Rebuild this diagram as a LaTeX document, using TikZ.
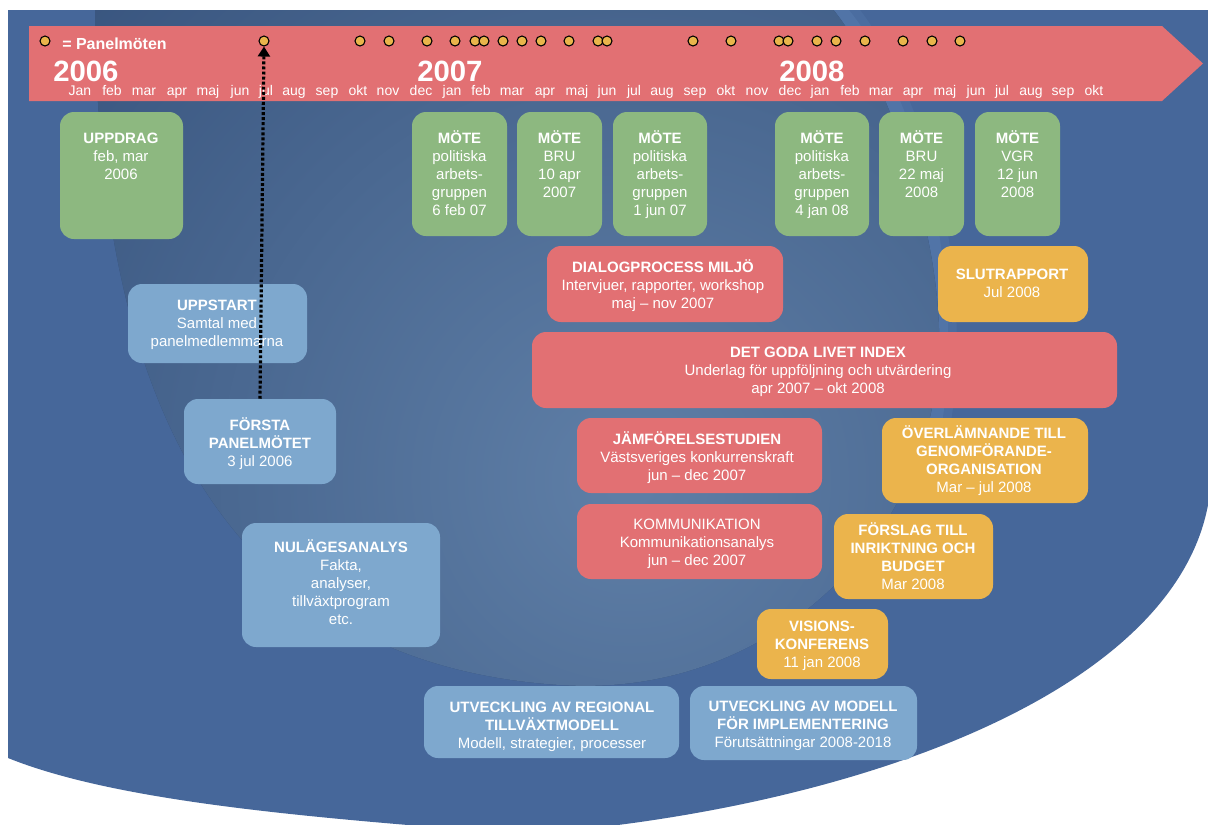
\documentclass[tikz,border=0pt]{standalone}
\usepackage{fontspec}
\setmainfont{Liberation Sans}
\usetikzlibrary{fit,arrows.meta}
\definecolor{bgBlue}{HTML}{46679A}
\definecolor{bgDark}{HTML}{34507A}
\definecolor{bgLight}{HTML}{5F7FA7}
\definecolor{bgStreak}{HTML}{5A80B3}
\definecolor{barRed}{HTML}{E27073}
\definecolor{boxGreen}{HTML}{8DB880}
\definecolor{boxBlue}{HTML}{7EA8CE}
\definecolor{boxOrange}{HTML}{EBB44C}
\definecolor{dotYellow}{HTML}{E9B54B}
\newcommand{\fs}{\rule{0pt}{11pt}}
\tikzset{
  box/.style={rounded corners=10.5pt, inner sep=0pt, draw=none},
  txt/.style={font=\fontsize{11.25pt}{13.5pt}\selectfont, text=white, align=center, inner sep=0pt, anchor=north, yshift=11pt},
  mon/.style={font=\fontsize{10.5pt}{12pt}\selectfont, text=white, anchor=base, inner sep=0pt},
  yr/.style={font=\fontsize{22pt}{26pt}\selectfont\bfseries, text=white, anchor=base west, inner sep=0pt},
  pdot/.style={circle, fill=dotYellow, draw=black, line width=0.8pt, minimum size=7.5pt, inner sep=0pt},
  dotarrow/.style={line width=2.4pt, dash pattern=on 2.2pt off 1.6pt, -{Triangle[width=9pt,length=7.5pt]}},
}
\begin{document}
\begin{tikzpicture}[x=0.75pt,y=-0.75pt]
\useasboundingbox (0,0) rectangle (1208,825);
\fill[white] (0,0) rectangle (1208,825);
% background
\fill[bgBlue] (8,10) -- (1208,10) -- (1208,505) .. controls (1175,680) and (900,790) .. (610,826) -- (420,826) .. controls (250,812) and (100,795) .. (8,758) -- cycle;
\begin{scope}
  \clip (8,10) rectangle (1208,825);
  \draw[bgStreak, line width=24pt, opacity=0.25, line cap=round] (935,420) .. controls (950,330) and (935,200) .. (900,120) .. controls (880,70) and (860,30) .. (830,0);
  \draw[bgStreak, line width=11pt, opacity=0.4, line cap=round] (935,420) .. controls (950,330) and (935,200) .. (900,120) .. controls (880,70) and (860,30) .. (830,0);
  \clip (95,0) .. controls (95,330) and (180,660) .. (560,685) .. controls (780,700) and (955,520) .. (938,310) .. controls (930,200) and (880,60) .. (825,0) -- cycle;
  \fill[bgDark] (0,0) rectangle (1208,825);
  \shade[inner color=bgLight, outer color=bgDark] (630,480) circle (820);
\end{scope}
% timeline bar
\fill[barRed] (29,26) -- (1162,26) -- (1203,63.5) -- (1162,101) -- (29,101) -- cycle;
\node[pdot] (dleg) at (45,41) {};
\node[font=\fontsize{12pt}{14pt}\selectfont\bfseries, text=white, anchor=base west, inner sep=0pt] (legend) at (62,49) {= Panelmöten};
\node[pdot] (djul) at (264,41) {};
\foreach \x [count=\i] in {360,389,427,455,475,484,503,522,541,569,598,607,693,731,779,788,817,836,865,903,932,960}
  \node[pdot] (d\i) at (\x,41) {};
\node[yr] (y2006) at (53,81) {2006};
\node[yr] (y2007) at (417,81) {2007};
\node[yr] (y2008) at (779,81) {2008};
\foreach \m/\x [count=\i] in {Jan/80,feb/112,mar/144,apr/177,maj/208,jun/240,jul/266,aug/294,sep/327,okt/358,nov/388,
  dec/421,jan/452,feb/481,mar/512,apr/545,maj/577,jun/607,jul/634,aug/662,sep/695,okt/726,nov/757,dec/790,
  jan/820,feb/850,mar/881,apr/913,maj/945,jun/976,jul/1002,aug/1031,sep/1063,okt/1094}
  \node[mon] (mo\i) at (\x,95.5) {\m};
% green boxes
\node[box, fill=boxGreen, fit={(60,112) (183,239)}] (uppdrag) {};
\node[txt] (uppdragT) at (121,143) {\fs\textbf{UPPDRAG}\\feb, mar\\2006};
\node[box, fill=boxGreen, fit={(412,112) (507,236)}] (mote1) {};
\node[txt] (mote1T) at (459.5,143) {\fs\textbf{MÖTE}\\politiska\\arbets-\\gruppen\\6 feb 07};
\node[box, fill=boxGreen, fit={(517,112) (602,236)}] (mote2) {};
\node[txt] (mote2T) at (559.5,143) {\fs\textbf{MÖTE}\\BRU\\10 apr\\2007};
\node[box, fill=boxGreen, fit={(613,112) (707,236)}] (mote3) {};
\node[txt] (mote3T) at (660,143) {\fs\textbf{MÖTE}\\politiska\\arbets-\\gruppen\\1 jun 07};
\node[box, fill=boxGreen, fit={(775,112) (869,236)}] (mote4) {};
\node[txt] (mote4T) at (822,143) {\fs\textbf{MÖTE}\\politiska\\arbets-\\gruppen\\4 jan 08};
\node[box, fill=boxGreen, fit={(879,112) (964,236)}] (mote5) {};
\node[txt] (mote5T) at (921.5,143) {\fs\textbf{MÖTE}\\BRU\\22 maj\\2008};
\node[box, fill=boxGreen, fit={(975,112) (1060,236)}] (mote6) {};
\node[txt] (mote6T) at (1017.5,143) {\fs\textbf{MÖTE}\\VGR\\12 jun\\2008};
% red boxes
\node[box, fill=barRed, fit={(547,246) (783,322)}] (dialog) {};
\node[txt] (dialogT) at (663,272) {\fs\textbf{DIALOGPROCESS MILJÖ}\\Intervjuer, rapporter, workshop\\maj – nov 2007};
\node[box, fill=barRed, fit={(532,332) (1117,408)}] (goda) {};
\node[txt] (godaT) at (818,357) {\fs\textbf{DET GODA LIVET INDEX}\\Underlag för uppföljning och utvärdering\\apr 2007 – okt 2008};
\node[box, fill=barRed, fit={(577,418) (822,493)}] (jamfor) {};
\node[txt] (jamforT) at (697,444) {\fs\textbf{JÄMFÖRELSESTUDIEN}\\Västsveriges konkurrenskraft\\jun – dec 2007};
\node[box, fill=barRed, fit={(577,504) (822,579)}] (komm) {};
\node[txt] (kommT) at (697,529) {\fs KOMMUNIKATION\\Kommunikationsanalys\\jun – dec 2007};
% orange boxes
\node[box, fill=boxOrange, fit={(938,246) (1088,322)}] (slut) {};
\node[txt] (slutT) at (1012,279) {\fs\textbf{SLUTRAPPORT}\\Jul 2008};
\node[box, fill=boxOrange, fit={(882,418) (1088,503)}] (overl) {};
\node[txt] (overlT) at (984,438) {\fs\textbf{ÖVERLÄMNANDE TILL}\\\textbf{GENOMFÖRANDE-}\\\textbf{ORGANISATION}\\Mar – jul 2008};
\node[box, fill=boxOrange, fit={(834,514) (993,599)}] (forslag) {};
\node[txt] (forslagT) at (913,535) {\fs\textbf{FÖRSLAG TILL}\\\textbf{INRIKTNING OCH}\\\textbf{BUDGET}\\Mar 2008};
\node[box, fill=boxOrange, fit={(757,609) (888,679)}] (visions) {};
\node[txt] (visionsT) at (822,631) {\fs\textbf{VISIONS-}\\\textbf{KONFERENS}\\11 jan 2008};
% light blue boxes
\node[box, fill=boxBlue, fit={(128,284) (307,363)}] (uppstart) {};
\node[txt] (uppstartT) at (217,310) {\fs\textbf{UPPSTART}\\Samtal med\\panelmedlemmarna};
\node[box, fill=boxBlue, fit={(184,399) (336,484)}] (forsta) {};
\node[txt] (forstaT) at (260,430) {\fs\textbf{FÖRSTA}\\\textbf{PANELMÖTET}\\3 jul 2006};
\node[box, fill=boxBlue, fit={(242,523) (440,647)}] (nulage) {};
\node[txt] (nulageT) at (341,552) {\fs\textbf{NULÄGESANALYS}\\Fakta,\\analyser,\\tillväxtprogram\\etc.};
\node[box, fill=boxBlue, fit={(424,686) (679,758)}] (utvreg) {};
\node[txt] (utvregT) at (552,712) {\fs\textbf{UTVECKLING AV REGIONAL}\\\textbf{TILLVÄXTMODELL}\\Modell, strategier, processer};
\node[box, fill=boxBlue, fit={(690,686) (917,760)}] (utvmod) {};
\node[txt] (utvmodT) at (803,711) {\fs\textbf{UTVECKLING AV MODELL}\\\textbf{FÖR IMPLEMENTERING}\\Förutsättningar 2008-2018};
% dotted arrow
\draw[dotarrow] (forsta.north) -- (djul.south);
\end{tikzpicture}
\end{document}
